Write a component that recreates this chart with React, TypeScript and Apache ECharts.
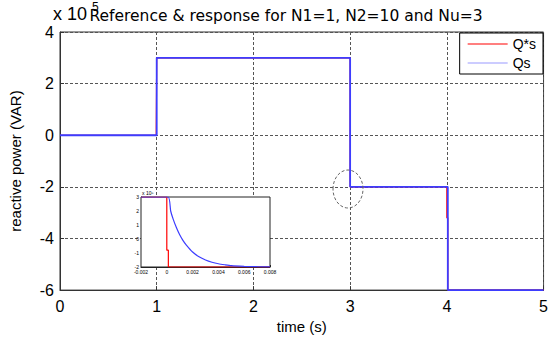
import React, { useEffect, useRef } from "react";
import * as echarts from "echarts";

// Main plot: reference Q*s and response Qs (VAR) versus time (s)
const refTime = [0, 0.995, 0.995, 1, 1, 3, 3, 4, 4, 4.01, 4.01, 5];
const refQ = [0, 0, 30000, 30000, 300000, 300000, -200000, -200000, -320000, -320000, -600000, -600000];
const respTime = [0, 1, 1, 3, 3, 4.01, 4.01, 5];
const respQ = [0, 0, 300000, 300000, -200000, -200000, -600000, -600000];

// Inset: zoom on the step at t = 3 s (time offset in s)
const insetRefTime = [-0.002, 0, 0, 0.00012, 0.00012, 0.008];
const insetRefQ = [300000, 300000, -80000, -80000, -200000, -200000];
const insetRespTime = [-0.002, 0.0001, 0.0003, 0.0005, 0.00075, 0.001, 0.00125, 0.0015, 0.002, 0.0025, 0.003, 0.0035, 0.004, 0.0045, 0.005, 0.006, 0.007, 0.008];
const insetRespQ = [300000, 300000, 200000, 140000, 80000, 30000, -10000, -42000, -93000, -127000, -150000, -166000, -177000, -184000, -190000, -195000, -198000, -199000];

const xTicks = [0, 1, 2, 3, 4, 5];
const yTicksScaled = [-6, -4, -2, 0, 2, 4];

const zip = (a: number[], b: number[]) => a.map((v, i) => [v, b[i]]);

export default function App() {
  const ref = useRef<HTMLDivElement>(null);
  useEffect(() => {
    if (!ref.current) return;
    const chart = echarts.init(ref.current, null, { renderer: "svg" });
    const font = "Liberation Sans, Arial, sans-serif";
    const grayDash = { color: "#555", type: [3, 2] as any, width: 1 };
    chart.setOption({
      animation: false,
      backgroundColor: "#fff",
      textStyle: { fontFamily: font },
      grid: [
        { left: 57, right: 6, top: 32, bottom: 37, show: true, borderColor: "#333", borderWidth: 1, backgroundColor: "#fff" },
        { left: 141, top: 197, width: 129, height: 70, show: true, borderColor: "#222", borderWidth: 1, backgroundColor: "#fff", z: 10 },
      ],
      legend: {
        data: [
          { name: "Q*s", icon: "rect", itemStyle: { color: "#ff0000" } },
          { name: "Qs", icon: "rect", itemStyle: { color: "#9999ff" } },
        ],
        orient: "vertical",
        right: 8,
        top: 33,
        itemWidth: 40,
        itemHeight: 1.2,
        itemGap: 5,
        padding: [4, 7, 4, 8],
        borderColor: "#000",
        borderWidth: 1,
        backgroundColor: "#fff",
        textStyle: { fontSize: 14, color: "#000", fontFamily: font },
        z: 20,
      },
      xAxis: [
        {
          type: "value", gridIndex: 0, min: 0, max: 5, interval: 1,
          name: "time (s)", nameLocation: "middle", nameGap: 26,
          nameTextStyle: { fontSize: 15, color: "#000", fontFamily: font },
          axisLine: { onZero: false, lineStyle: { color: "#333" } },
          axisTick: { inside: true, length: 4, lineStyle: { color: "#333" } },
          axisLabel: { fontSize: 16, color: "#000", margin: 8, formatter: (v: number) => (xTicks.includes(v) ? String(v) : "") },
          splitLine: { show: true, lineStyle: grayDash },
        },
        {
          type: "value", gridIndex: 1, min: -0.002, max: 0.008, interval: 0.002,
          axisLine: { onZero: false, lineStyle: { color: "#222" } },
          axisTick: { inside: true, length: 2, lineStyle: { color: "#222" } },
          axisLabel: { fontSize: 5, color: "#000", margin: 2, formatter: (v: number) => (Math.abs(v) < 1e-12 ? "0" : v.toFixed(3)) },
          splitLine: { show: false },
        },
      ],
      yAxis: [
        {
          type: "value", gridIndex: 0, min: -600000, max: 400000, interval: 200000,
          name: "reactive power (VAR)", nameLocation: "middle", nameGap: 37, nameRotate: 90,
          nameTextStyle: { fontSize: 15, color: "#000", fontFamily: font },
          axisLine: { show: true, onZero: false, lineStyle: { color: "#333" } },
          axisTick: { inside: true, length: 4, lineStyle: { color: "#333" } },
          axisLabel: { fontSize: 16, color: "#000", margin: 6, formatter: (v: number) => { const s = v / 100000; return yTicksScaled.includes(s) ? String(s) : ""; } },
          splitLine: { show: true, lineStyle: grayDash },
        },
        {
          type: "value", gridIndex: 1, min: -200000, max: 300000, interval: 100000,
          axisLine: { show: true, onZero: false, lineStyle: { color: "#222" } },
          axisTick: { inside: true, length: 2, lineStyle: { color: "#222" } },
          axisLabel: { fontSize: 5, color: "#000", margin: 2, formatter: (v: number) => String(v / 100000) },
          splitLine: { show: false },
        },
      ],
      series: [
        { name: "Q*s", type: "line", xAxisIndex: 0, yAxisIndex: 0, data: zip(refTime, refQ), showSymbol: false, lineStyle: { color: "#ff0000", width: 1.2 }, itemStyle: { color: "#ff0000" }, z: 2 },
        { name: "Qs", type: "line", xAxisIndex: 0, yAxisIndex: 0, data: zip(respTime, respQ), showSymbol: false, lineStyle: { color: "#3d3dff", width: 1.8 }, itemStyle: { color: "#3d3dff" }, z: 3 },
        { name: "Q*s inset", type: "line", xAxisIndex: 1, yAxisIndex: 1, data: zip(insetRefTime, insetRefQ), showSymbol: false, lineStyle: { color: "#ff0000", width: 1.2 }, z: 11 },
        { name: "Qs inset", type: "line", xAxisIndex: 1, yAxisIndex: 1, data: zip(insetRespTime, insetRespQ), showSymbol: false, smooth: 0.2, lineStyle: { color: "#3d3dff", width: 1.2 }, z: 12 },
      ],
      graphic: [
        { type: "text", left: 53, top: 5, z: 30, style: { text: "x 10", fontSize: 18, fill: "#000", fontFamily: font } },
        { type: "text", x: 286, y: 16, z: 30, style: { text: "Reference & response for N1=1, N2=10 and Nu=3", fontSize: 15.5, fill: "#000", fontFamily: "DejaVu Sans, sans-serif", align: "center", verticalAlign: "middle" } },
        { type: "text", left: 92, top: 1, z: 31, style: { text: "5", fontSize: 12, fill: "#000", fontFamily: font } },
        { type: "text", left: 142, top: 190, z: 30, style: { text: "x 10⁵", fontSize: 5, fill: "#000", fontFamily: font } },
        { type: "ellipse", z: 30, shape: { cx: 348, cy: 189, rx: 15, ry: 19 }, style: { fill: "none", stroke: "#666", lineWidth: 1, lineDash: [3, 2] } },
      ],
    });
    return () => chart.dispose();
  }, []);
  return <div ref={ref} style={{ position: "fixed", left: 0, top: 0, width: 551, height: 339, background: "#fff" }} />;
}
